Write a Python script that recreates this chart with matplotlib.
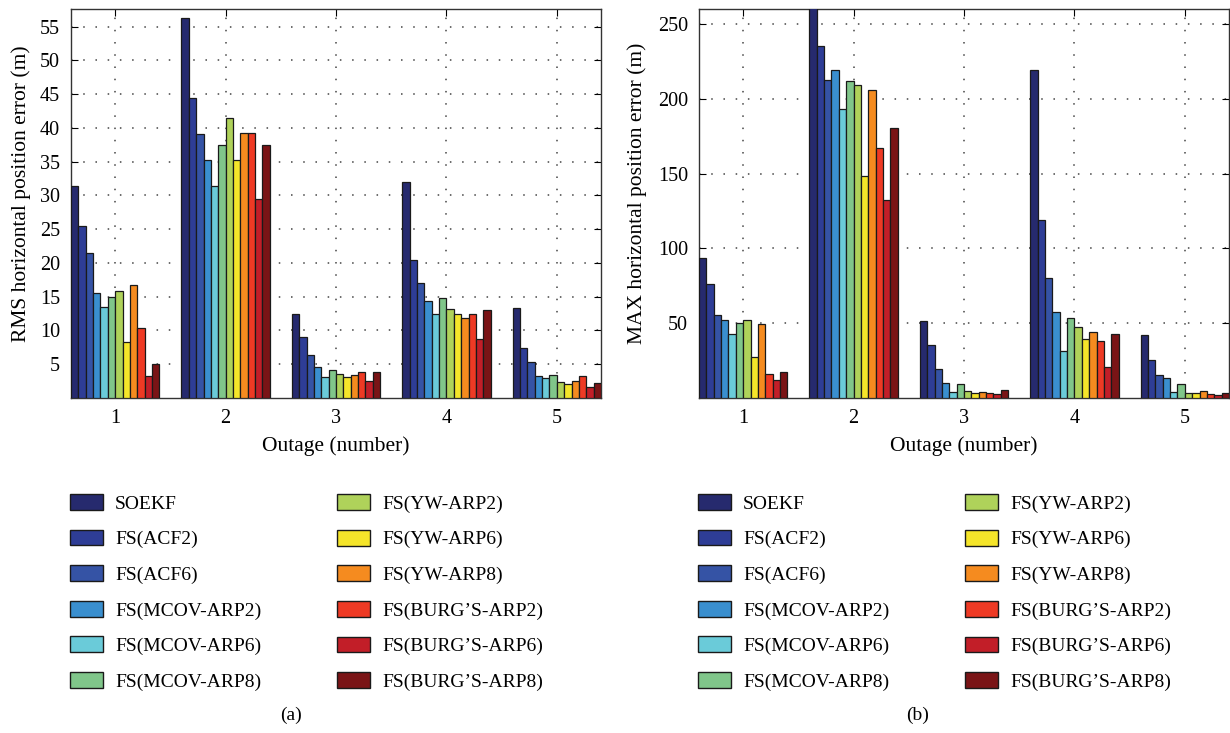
import numpy as np
import matplotlib
matplotlib.use("Agg")
import matplotlib.pyplot as plt
from matplotlib.patches import Patch

plt.rcParams["font.family"] = ["Liberation Serif", "DejaVu Serif"]

# Datos
outages = [1, 2, 3, 4, 5]
metodos = ["SOEKF", "FS(ACF2)", "FS(ACF6)", "FS(MCOV-ARP2)", "FS(MCOV-ARP6)",
           "FS(MCOV-ARP8)", "FS(YW-ARP2)", "FS(YW-ARP6)", "FS(YW-ARP8)",
           "FS(BURG\u2019S-ARP2)", "FS(BURG\u2019S-ARP6)", "FS(BURG\u2019S-ARP8)"]
colores = ["#262a6e", "#2e3d96", "#3553a5", "#3a8fcf", "#6acbd9", "#80c68a",
           "#afd25a", "#f5e52a", "#f58b1f", "#ee3a24", "#c21e28", "#7a1416"]

# RMS (m): una lista por metodo, posiciones = outage 1..5
rms_soekf = [31.4, 56.3, 12.5, 32.0, 13.4]
rms_acf2 = [25.5, 44.4, 9.0, 20.4, 7.4]
rms_acf6 = [21.4, 39.1, 6.4, 17.1, 5.3]
rms_mcov2 = [15.5, 35.3, 4.6, 14.4, 3.3]
rms_mcov6 = [13.5, 31.4, 3.1, 12.4, 3.0]
rms_mcov8 = [15.0, 37.4, 4.1, 14.8, 3.4]
rms_yw2 = [15.8, 41.4, 3.6, 13.2, 2.3]
rms_yw6 = [8.3, 35.3, 3.1, 12.4, 2.0]
rms_yw8 = [16.8, 39.3, 3.4, 11.9, 2.5]
rms_burg2 = [10.3, 39.3, 3.8, 12.4, 3.2]
rms_burg6 = [3.2, 29.4, 2.5, 8.7, 1.7]
rms_burg8 = [5.1, 37.4, 3.8, 13.1, 2.2]

# MAX (m)
max_soekf = [93.9, 265.0, 51.6, 219.5, 42.2]
max_acf2 = [76.3, 235.5, 35.3, 119.1, 25.5]
max_acf6 = [55.6, 212.3, 19.3, 80.5, 15.5]
max_mcov2 = [51.8, 219.3, 10.3, 57.4, 13.2]
max_mcov6 = [43.1, 193.4, 4.3, 31.5, 4.3]
max_mcov8 = [50.4, 212.1, 9.2, 53.4, 9.2]
max_yw2 = [52.4, 209.2, 5.0, 47.6, 3.2]
max_yw6 = [27.5, 148.4, 3.6, 39.3, 3.2]
max_yw8 = [49.4, 205.6, 4.3, 44.4, 5.0]
max_burg2 = [16.1, 167.3, 3.6, 38.4, 2.9]
max_burg6 = [12.3, 132.5, 2.9, 20.6, 2.1]
max_burg8 = [17.5, 180.2, 5.4, 42.7, 3.6]

rms = [rms_soekf, rms_acf2, rms_acf6, rms_mcov2, rms_mcov6, rms_mcov8,
       rms_yw2, rms_yw6, rms_yw8, rms_burg2, rms_burg6, rms_burg8]
maxe = [max_soekf, max_acf2, max_acf6, max_mcov2, max_mcov6, max_mcov8,
        max_yw2, max_yw6, max_yw8, max_burg2, max_burg6, max_burg8]

W, H = 1230, 733
fig = plt.figure(figsize=(12.3, 7.33), dpi=100)

def fx(px):
    return px / W

def fy(py):
    return 1 - py / H

paneles = [
    (71, rms, (0, 57.6), list(range(5, 60, 5)), "RMS horizontal position error (m)",
     -0.094, "(a)", 291),
    (699, maxe, (0, 260), list(range(50, 300, 50)), "MAX horizontal position error (m)",
     -0.117, "(b)", 918),
]

ancho = 0.8 / len(metodos)
x = np.array(outages, dtype=float)

for left, datos, ylim, yticks, ylabel, ylx, letra, xletra in paneles:
    ax = fig.add_axes([fx(left), fy(398), fx(530), (398 - 9) / H])
    for i, (serie, c) in enumerate(zip(datos, colores)):
        ax.bar(x + (i - 5.5) * ancho, serie, width=ancho, color=c,
               edgecolor="#1a1a1a", linewidth=0.9, zorder=3)
    ax.set_xlim(0.6, 5.4)
    ax.set_ylim(*ylim)
    ax.set_xticks(outages)
    ax.set_yticks(yticks)
    ax.tick_params(direction="in", top=True, right=True, length=5,
                   labelsize=14.5, pad=8, width=0.8)
    ax.grid(True, linestyle=(0, (1, 7)), color="#444444", linewidth=1.1, zorder=0)
    for s in ax.spines.values():
        s.set_color("#333333")
        s.set_linewidth(1.0)
    ax.set_xlabel("Outage (number)", fontsize=15.5, labelpad=6)
    ax.set_ylabel(ylabel, fontsize=15.5, va="center")
    ax.yaxis.set_label_coords(ylx, 0.525)

    # leyenda en dos columnas
    h = [Patch(facecolor=c, edgecolor="#1a1a1a", linewidth=1.0) for c in colores]
    for col in range(2):
        fig.legend(h[col * 6:(col + 1) * 6], metodos[col * 6:(col + 1) * 6],
                   loc="upper left",
                   bbox_to_anchor=(fx(left - 1 + col * 267), fy(494)),
                   frameon=False, fontsize=14, handlelength=1.7,
                   handleheight=0.88, handletextpad=0.62, labelspacing=0.87,
                   borderpad=0, borderaxespad=0)
    fig.text(fx(xletra), fy(715), letra, fontsize=14, ha="center", va="center")

fig.savefig("out.png", dpi=100)
